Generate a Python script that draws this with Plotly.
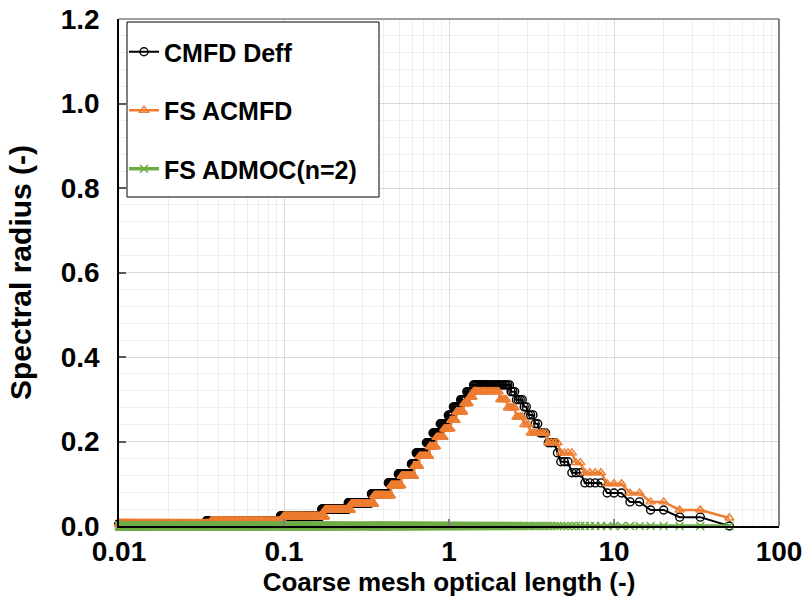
import plotly.graph_objects as go
import bisect

# ---- data ----
# Marker positions: coarse mesh optical length = 100 / number of coarse meshes
mesh_counts = (list(range(2, 301)) + list(range(302, 1001, 2))
               + list(range(1005, 3001, 5)) + list(range(3010, 10001, 10)))

# Step tables: (optical length where the level starts, spectral radius level)
cmfd_break_x = [0.01, 0.034, 0.095, 0.169, 0.245, 0.338, 0.428, 0.492, 0.589,
                0.632, 0.726, 0.800, 0.883, 0.986, 1.057, 1.165, 1.267, 1.396,
                2.34, 2.54, 2.80, 3.00, 3.31, 3.55, 3.96, 4.37, 4.69, 5.38,
                6.4, 8.7, 11.5, 15.5, 22.0, 40.0]
cmfd_level = [0.005, 0.012, 0.024, 0.040, 0.055, 0.076, 0.102, 0.123, 0.147,
              0.173, 0.197, 0.220, 0.242, 0.262, 0.282, 0.299, 0.318, 0.334,
              0.318, 0.299, 0.282, 0.263, 0.242, 0.220, 0.197, 0.173, 0.152, 0.126,
              0.102, 0.078, 0.057, 0.038, 0.021, 0.0]

acmfd_break_x = [0.01, 0.036, 0.099, 0.177, 0.255, 0.352, 0.446, 0.513, 0.614,
                 0.66, 0.76, 0.84, 0.93, 1.03, 1.11, 1.22, 1.33, 1.40,
                 2.03, 2.25, 2.51, 2.79, 3.10, 3.96, 4.55, 5.63, 6.6,
                 8.7, 11.5, 15.5, 22.0, 40.0]
acmfd_level = [0.005, 0.011, 0.022, 0.038, 0.052, 0.072, 0.096, 0.118, 0.142,
               0.165, 0.188, 0.210, 0.230, 0.250, 0.270, 0.290, 0.305, 0.318,
               0.299, 0.280, 0.258, 0.240, 0.220, 0.197, 0.173, 0.150, 0.126,
               0.100, 0.078, 0.057, 0.038, 0.019]

admoc_level = 0.0

x_tick_vals = [0.01, 0.1, 1, 10, 100]
x_tick_text = ["0.01", "0.1", "1", "10", "100"]
y_tick_vals = [0.0, 0.2, 0.4, 0.6, 0.8, 1.0, 1.2]

names = ["CMFD Deff", "FS ACMFD", "FS ADMOC(n=2)"]


def lookup(breaks, levels, x):
    i = bisect.bisect_right(breaks, x + 1e-12) - 1
    return levels[max(i, 0)]


xs = sorted(100.0 / n for n in mesh_counts)
y_cmfd = [lookup(cmfd_break_x, cmfd_level, x) for x in xs]
y_acmfd = [lookup(acmfd_break_x, acmfd_level, x) for x in xs]
y_admoc = [admoc_level for _ in xs]

FONT = "Liberation Sans, Arial, sans-serif"
TICK_SIZE = 28
XTITLE_SIZE = 26
YTITLE_SIZE = 30
LEG_SIZE = 25

fig = go.Figure()
fig.add_trace(go.Scatter(
    x=xs, y=y_cmfd, name=names[0], mode="lines+markers", legendgroup="a",
    line=dict(color="black", width=2),
    marker=dict(symbol="circle-open", size=8, color="black", line=dict(width=1.4)),
    cliponaxis=False))
fig.add_trace(go.Scatter(
    x=xs, y=y_acmfd, name=names[1], mode="lines+markers", legendgroup="b",
    line=dict(color="#ED7D31", width=2.5),
    marker=dict(symbol="triangle-up-open", size=8, color="#ED7D31", line=dict(width=1.4)),
    cliponaxis=False))
fig.add_trace(go.Scatter(
    x=xs, y=y_admoc, name=names[2], mode="lines+markers", legendgroup="c",
    line=dict(color="#70AD47", width=3.5),
    marker=dict(symbol="x-thin-open", size=8, color="#70AD47", line=dict(width=1.5, color="#70AD47")),
    cliponaxis=False))

W, H = 806, 610
PL, PR, PT, PB = 119, 779, 19, 526          # plot area in screen pixels
L, T = PL, PT
R, B = W - PR, H - PB
pw, ph = PR - PL, PB - PT


def px_x(p):
    return (p - PL) / pw


def px_y(p):
    return (PB - p) / ph


fig.update_layout(
    width=W, height=H,
    margin=dict(l=L, r=R, t=T, b=B, autoexpand=False),
    paper_bgcolor="white", plot_bgcolor="white",
    font=dict(family=FONT, size=22, color="black", weight="bold"),
    showlegend=True,
    legend=dict(
        x=px_x(124), y=px_y(29), xanchor="left", yanchor="top",
        bgcolor="rgba(0,0,0,0)", borderwidth=0,
        font=dict(family=FONT, size=LEG_SIZE, color="black", weight="bold"),
        tracegroupgap=23, itemwidth=30,
    ),
    shapes=[
        dict(type="rect", xref="paper", yref="paper",
             x0=px_x(127), x1=px_x(379), y0=px_y(197), y1=px_y(22),
             fillcolor="white", line=dict(color="black", width=1), layer="above"),
        dict(type="line", xref="paper", yref="paper", x0=0, x1=1, y0=1, y1=1,
             line=dict(color="#7f7f7f", width=1.5), layer="above"),
        dict(type="line", xref="paper", yref="paper", x0=1, x1=1, y0=0, y1=1,
             line=dict(color="#595959", width=1.5), layer="above"),
    ],
)

fig.update_xaxes(
    type="log", range=[-2, 2], automargin=False,
    tickvals=x_tick_vals, ticktext=x_tick_text,
    showline=True, linecolor="black", linewidth=1.5,
    ticks="inside", ticklen=7, tickcolor="#7f7f7f", tickwidth=1.5,
    showgrid=True, gridcolor="#d9d9d9", gridwidth=1,
    minor=dict(dtick="D1", showgrid=True, gridcolor="#efefef", ticks=""),
    zeroline=False,
    tickfont=dict(family=FONT, size=TICK_SIZE, color="black", weight="bold"),
    ticklabelstandoff=0, ticklabeloverflow="allow",
    title=dict(text="Coarse mesh optical length (-)", standoff=2,
               font=dict(family=FONT, size=XTITLE_SIZE, color="black", weight="bold")),
)
fig.update_yaxes(
    range=[0, 1.2], tickvals=y_tick_vals, tickformat=".1f", automargin=False,
    showline=True, linecolor="black", linewidth=1.5,
    ticks="inside", ticklen=7, tickcolor="#595959", tickwidth=1.5,
    showgrid=True, gridcolor="#d9d9d9", gridwidth=1,
    minor=dict(dtick=0.04, showgrid=True, gridcolor="#efefef", ticks=""),
    zeroline=False,
    tickfont=dict(family=FONT, size=TICK_SIZE, color="black", weight="bold"),
    ticklabelstandoff=12, ticklabeloverflow="allow",
    title=dict(text="Spectral radius (-)", standoff=20,
               font=dict(family=FONT, size=YTITLE_SIZE, color="black", weight="bold")),
)

fig.write_html("out.html", config={"displayModeBar": False},
               post_script="document.body.style.margin='0';document.body.style.overflow='hidden';")
